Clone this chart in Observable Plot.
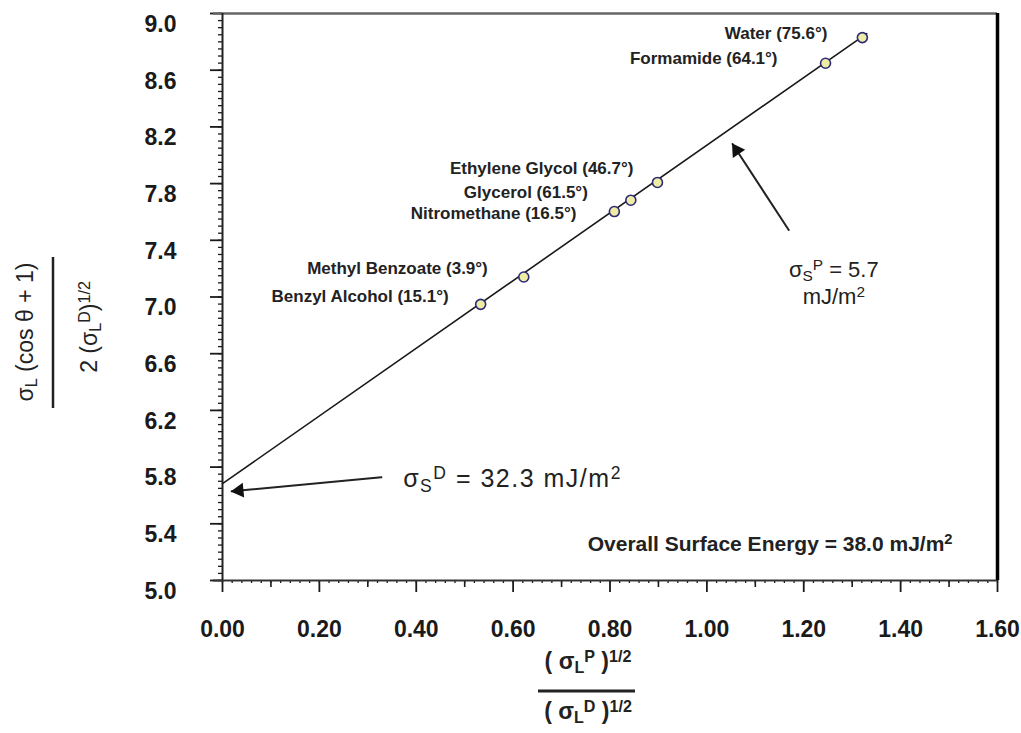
<!DOCTYPE html>
<html><head><meta charset="utf-8">
<script src="https://cdn.jsdelivr.net/npm/d3@7"></script>
<script src="https://cdn.jsdelivr.net/npm/@observablehq/plot@0.6"></script>
<style>body{margin:0;background:#fff} svg{display:block}</style>
</head><body><div id="chart"></div>
<script>
// ---- data ----
const liquids = ["Water","Formamide","Ethylene Glycol","Glycerol","Nitromethane","Methyl Benzoate","Benzyl Alcohol"];
const contactAngles = [75.6, 64.1, 46.7, 61.5, 16.5, 3.9, 15.1];
const xValues = [1.321, 1.245, 0.898, 0.843, 0.809, 0.622, 0.533];
const yValues = [8.830, 8.649, 7.808, 7.683, 7.603, 7.141, 6.948];
const sigmaSD = 32.3, sigmaSP = 5.7, sigmaTotal = 38.0;
const fitRangeX = [0, 1.33];
const xMajorTicks = [0, 0.2, 0.4, 0.6, 0.8, 1.0, 1.2, 1.4, 1.6];
const xMidTicks = [0.1, 0.3, 0.5, 0.7, 0.9, 1.1, 1.3, 1.5];
const yMajorTicks = [5.0, 5.4, 5.8, 6.2, 6.6, 7.0, 7.4, 7.8, 8.2, 8.6, 9.0];
// annotation arrows (tail -> tip), data coordinates
const arrowTailX = [1.169, 0.328], arrowTailY = [7.473, 5.728];
const arrowTipX = [1.053, 0.019], arrowTipY = [8.079, 5.629];

// ---- layout (kept apart from data) ----
const W = 1021, H = 733, mL = 222, mR = 24, mT = 13, mB = 153;
const X_DOMAIN = [0, 1.6], Y_DOMAIN = [5, 9];
const labelDx = [-35, -48, -24, -43, -38, -36, -32];
const labelDy = [-4, -5, -14, -8, 2, -8, -8];
const FONT = "'Liberation Sans', Arial, sans-serif";

const points = liquids.map((name, i) => ({name, angle: contactAngles[i], x: xValues[i], y: yValues[i]}));
const fitLine = fitRangeX.map(x => ({x, y: Math.sqrt(sigmaSD) + Math.sqrt(sigmaSP) * x}));
const xMinor = d3.range(0, 1.6001, 0.02).map(v => +v.toFixed(2));
const yMinor = d3.range(5, 9.0001, 0.05).map(v => +v.toFixed(2));

const xs = d3.scaleLinear(X_DOMAIN, [mL, W - mR]);
const ys = d3.scaleLinear(Y_DOMAIN, [H - mB, mT]);
const arrows = arrowTailX.map((_, i) => ({x1: arrowTailX[i], y1: arrowTailY[i], x2: arrowTipX[i], y2: arrowTipY[i]}));
const heads = arrows.map(a => {
  const px1 = xs(a.x1), py1 = ys(a.y1), px2 = xs(a.x2), py2 = ys(a.y2);
  const L = Math.hypot(px2 - px1, py2 - py1), ux = (px2 - px1) / L, uy = (py2 - py1) / L;
  const back = 7.5;
  return {x: xs.invert(px2 - ux * back), y: ys.invert(py2 - uy * back), rotate: Math.atan2(ux, -uy) * 180 / Math.PI};
});

const labelMarks = points.map((p, i) => Plot.text([p], {
  x: "x", y: "y", text: d => `${d.name} (${d.angle}°)`,
  textAnchor: "end", dx: labelDx[i], dy: labelDy[i],
  fontSize: 17, fontWeight: "bold", fill: "#222"
}));

const chart = Plot.plot({
  width: W, height: H,
  marginLeft: mL, marginRight: mR, marginTop: mT, marginBottom: mB,
  style: {fontFamily: FONT, color: "#1a1a1a", background: "#fff", overflow: "visible"},
  x: {domain: X_DOMAIN, axis: null},
  y: {domain: Y_DOMAIN, axis: null},
  marks: [
    // axes
    Plot.axisX(xMinor, {tickSize: 3, tickFormat: () => "", strokeWidth: 1.3}),
    Plot.axisX(xMidTicks, {tickSize: 7, tickFormat: () => "", strokeWidth: 1.6}),
    Plot.axisX(xMajorTicks, {tickSize: 12, tickPadding: 28, tickFormat: d => d.toFixed(2),
      fontSize: 23, fontWeight: "bold", strokeWidth: 1.8}),
    Plot.axisY(yMinor, {tickSize: 4, tickFormat: () => "", strokeWidth: 1.3}),
    Plot.axisY(yMajorTicks, {tickSize: 12, tickFormat: () => "", strokeWidth: 1.8}),
    Plot.axisY(yMajorTicks, {tickSize: 0, tickPadding: 46, tickFormat: d => d.toFixed(1),
      fontSize: 23, fontWeight: "bold", dy: 11}),
    // frame
    Plot.ruleY([Y_DOMAIN[1]], {stroke: "#666", strokeWidth: 2.5, insetLeft: -9}),
    Plot.ruleX([X_DOMAIN[1]], {stroke: "#000", strokeWidth: 3.5}),
    Plot.ruleY([Y_DOMAIN[0]], {stroke: "#333", strokeWidth: 2, insetLeft: -9}),
    Plot.ruleX([X_DOMAIN[0]], {stroke: "#222", strokeWidth: 2}),
    // fit line
    Plot.line(fitLine, {x: "x", y: "y", stroke: "#1a1a1a", strokeWidth: 1.6}),
    // points
    Plot.dot(points, {x: "x", y: "y", r: 5, fill: "#efeca6", stroke: "#2b2b78", strokeWidth: 1.6}),
    ...labelMarks,
    // arrows
    Plot.arrow(arrows, {x1: "x1", y1: "y1", x2: "x2", y2: "y2", headLength: 0, stroke: "#222", strokeWidth: 2}),
    Plot.dot(heads, {x: "x", y: "y", rotate: "rotate", symbol: "triangle", r: 5.5, fill: "#111", stroke: "none"}),
    // annotations
    Plot.text([`σ_{S}^{P} = ${sigmaSP}\nmJ/m^{2}`], {x: 1.262, y: 7.105, fontSize: 22, lineHeight: 1.2, fill: "#222"}),
    Plot.text([`σ_{S}^{D} = ${sigmaSD} mJ/m^{2}`], {x: 0.373, y: 5.714, textAnchor: "start", fontSize: 25, fill: "#222"}),
    Plot.text([`Overall Surface Energy = ${sigmaTotal.toFixed(1)} mJ/m^{2}`], {frameAnchor: "bottom-right", textAnchor: "end",
      dx: -45, dy: -30, fontSize: 21, fontWeight: "bold", fill: "#222"}),
    // axis titles (fractions)
    Plot.text(["σ_{L} (cos θ + 1)"], {frameAnchor: "left", textAnchor: "middle", rotate: -90, dx: -197, dy: 35, fontSize: 23, fill: "#222"}),
    Plot.text(["2 (σ_{L}^{D})^{1/2}"], {frameAnchor: "left", textAnchor: "middle", rotate: -90, dx: -133, dy: 30, fontSize: 23, fill: "#222"}),
    Plot.text(["( σ_{L}^{P} )^{1/2}"], {frameAnchor: "bottom", textAnchor: "middle", dx: -22, dy: 88, fontSize: 23, fontWeight: "bold", fill: "#222"}),
    Plot.text(["( σ_{L}^{D} )^{1/2}"], {frameAnchor: "bottom", textAnchor: "middle", dx: -22, dy: 138, fontSize: 23, fontWeight: "bold", fill: "#222"})
  ]
});

// wider tracking for the σS^D annotation, as in the reference
d3.select(chart).selectAll("text").filter(function () { return this.textContent.includes("32.3"); })
  .style("letter-spacing", "1.5px");

// rich text: _{sub} and ^{sup}
function richify(el) {
  const s = el.textContent;
  if (!/[_^]\{/.test(s)) return;
  while (el.firstChild) el.removeChild(el.firstChild);
  const re = /([_^])\{([^}]*)\}/g;
  let last = 0, m;
  const ns = "http://www.w3.org/2000/svg";
  const add = (t, kind) => {
    const ts = document.createElementNS(ns, "tspan");
    ts.textContent = t;
    if (kind) { ts.setAttribute("baseline-shift", kind === "_" ? "-25%" : "45%"); ts.setAttribute("font-size", "70%"); }
    el.appendChild(ts);
  };
  while ((m = re.exec(s))) {
    if (m.index > last) add(s.slice(last, m.index));
    add(m[2], m[1]);
    last = re.lastIndex;
  }
  if (last < s.length) add(s.slice(last));
}
d3.select(chart).selectAll("text, tspan").each(function () {
  if ([...this.childNodes].every(n => n.nodeType === 3)) richify(this);
});

// fraction bars for the axis titles
const svg = d3.select(chart);
svg.append("line").attr("x1", 53).attr("x2", 53).attr("y1", 257).attr("y2", 408).attr("stroke", "#222").attr("stroke-width", 2.5);
svg.append("line").attr("x1", 538).attr("x2", 635).attr("y1", 691).attr("y2", 691).attr("stroke", "#222").attr("stroke-width", 3);

document.getElementById("chart").appendChild(chart);
</script>
</body></html>
